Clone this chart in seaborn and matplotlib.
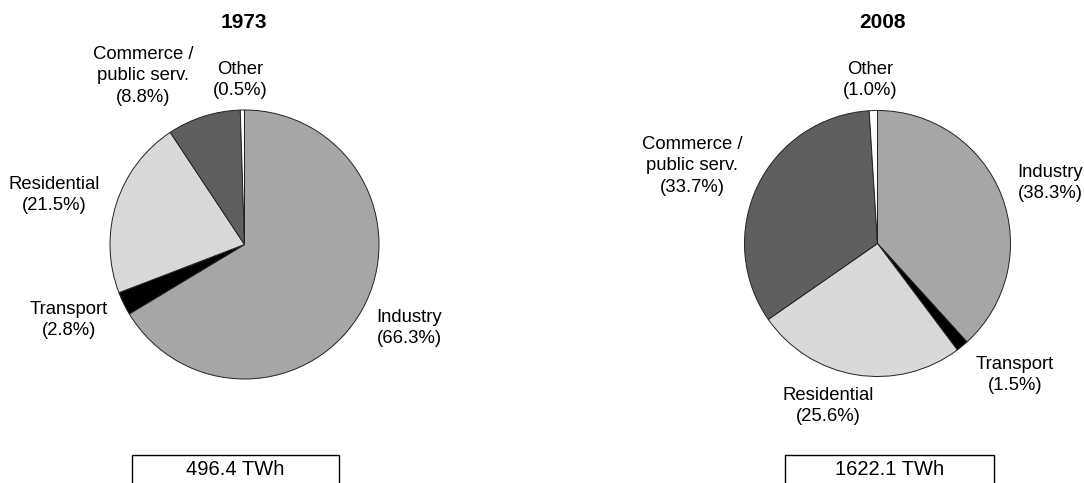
import matplotlib
matplotlib.use("Agg")
import matplotlib.pyplot as plt
from matplotlib.patches import Rectangle
import seaborn as sns

# ---- data ----
sectors = ["Industry", "Transport", "Residential", "Commerce /\npublic serv.", "Other"]
share_1973 = [66.3, 2.8, 21.5, 8.8, 0.5]
share_2008 = [38.3, 1.5, 25.6, 33.7, 1.0]
years = ["1973", "2008"]
totals = ["496.4 TWh", "1622.1 TWh"]

# ---- style ----
sns.set_theme(style="white")
plt.rcParams["font.family"] = ["Liberation Sans", "DejaVu Sans"]
colors = ["#a6a6a6", "#000000", "#d9d9d9", "#5f5f5f", "#ffffff"]

W, H = 1084, 483
fig = plt.figure(figsize=(W / 100, H / 100), dpi=100)
ax = fig.add_axes([0, 0, 1, 1])

# layout (pixel coordinates, y measured from top)
centers = [(244.5, 244.5), (877.5, 243.5)]
radii = [134.5, 133.0]
title_pos = [(244, 22), (883, 22)]
label_pos = [
    [(409, 328), (69, 320), (54, 195), (143, 76), (240, 80)],
    [(1050, 183), (1015, 375), (828, 406), (692, 166), (870, 80)],
]
box_x = [(132, 339), (785, 994)]
box_top = 454.5
fs = 13.3

for i, vals in enumerate([share_1973, share_2008]):
    cx, cy = centers[i]
    ax.pie(vals, colors=colors, startangle=90, counterclock=False,
           center=(cx, H - cy), radius=radii[i],
           wedgeprops=dict(edgecolor="#222222", linewidth=0.7))
    ax.text(title_pos[i][0], H - title_pos[i][1], years[i], ha="center", va="center",
            fontsize=15, fontweight="bold", color="black")
    for name, v, (lx, ly) in zip(sectors, vals, label_pos[i]):
        ax.text(lx, H - ly, f"{name}\n({v:.1f}%)", ha="center", va="center",
                fontsize=fs, color="black", linespacing=1.38)
    x0, x1 = box_x[i]
    ax.add_patch(Rectangle((x0, -10), x1 - x0, (H - box_top) + 10, facecolor="white",
                           edgecolor="black", linewidth=1.0))
    ax.text((x0 + x1) / 2, H - 469.5, totals[i], ha="center", va="center",
            fontsize=14.5, color="black")

ax.set_xlim(0, W)
ax.set_ylim(0, H)
ax.set_aspect("equal")
ax.axis("off")
fig.savefig("out.png", dpi=100, facecolor="white")
